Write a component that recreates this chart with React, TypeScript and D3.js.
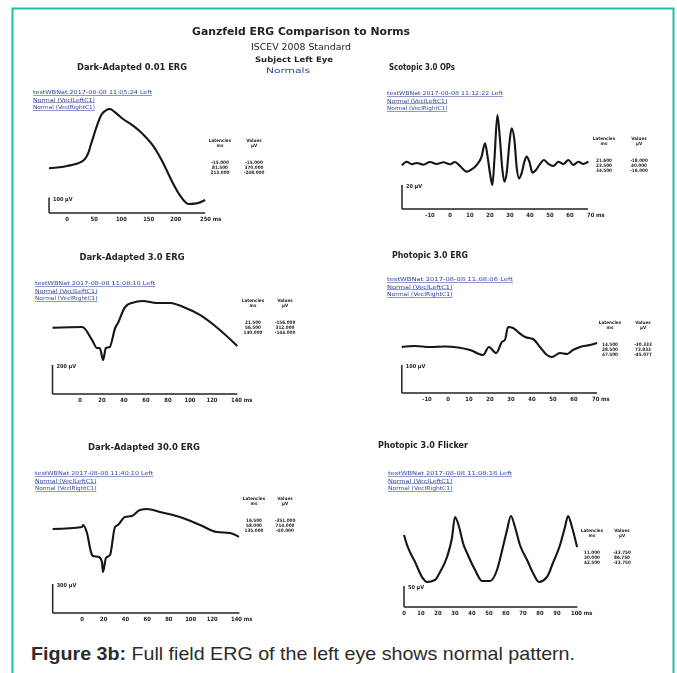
import React from 'react';
import * as d3 from 'd3';

// waveforms, [ms, µV]
const da001Wave: [number, number][] = [
  [-33, -15], [0, 0], [27, 28], [39, 83], [45, 150], [55, 259], [64, 335], [79, 368],
  [88, 347], [103, 303], [122, 259], [140, 204], [159, 127], [177, 18], [192, -92],
  [208, -191], [223, -245], [238, -241], [254, -219],
];
const opsWave: [number, number][] = [
  [-24, -2], [-21.7, 1], [-19, -1], [-16.7, 0], [-13.3, -1.4], [-10, 0.8], [-6.7, -0.8],
  [-3.3, 0.6], [0, -1.1], [2.5, 0.8], [5, -2.5], [8.3, -7.2], [10.8, -5.3], [13.3, -1.7],
  [15.8, 5.3], [17.5, 16.4], [18.8, 5.3], [20, -8.6], [21.2, -18.3], [22.2, 2.5], [23.7, 40],
  [25, 19.2], [26.2, -5.8], [27.2, -15.6], [28.3, -8.6], [29.7, 16.4], [30.8, 28.9],
  [32.2, 19.2], [33.3, -3], [34.5, -12.8], [35.8, -8.6], [37.2, 1.1], [38.3, 5.3], [39.7, 1.1],
  [41.2, -8], [43, -5.8], [45, -0.8], [47, 2.5], [49.2, -0.8], [51.7, -2.5], [54.2, 1.1],
  [56.7, -0.8], [59.2, 2.5], [61.7, -1.7], [64.2, 1.1], [66.7, -0.8], [69.2, 1.1],
];
const da30Wave: [number, number][] = [
  [-25, -5], [2, 0], [11, -90], [15.5, -145], [18, -145], [21, -228], [23.5, -145], [27, -138],
  [32, -7], [34.5, 28], [41, 138], [47, 166], [57, 179], [70, 166], [82, 166], [94, 138],
  [109, 83], [125, -7], [143, -131],
];
const photWave: [number, number][] = [
  [-22, 0], [-15.7, 3.6], [-8.6, 0], [-1.4, 1.8], [4.8, -1.8], [10.5, -10.7], [16.7, -28.6],
  [19.5, 0], [22.9, -21.4], [25.7, 17.9], [27.1, 25], [28.6, 71.4], [31, 67.9], [33.3, 53.6],
  [36.7, 35.7], [40.5, 28.6], [43.8, 0], [47.1, -28.6], [49.5, -35.7], [53.3, -21.4],
  [56.7, -25], [59.5, -10.7], [62.9, 0], [67.6, 7.1], [71, 14.3],
];
const da300Wave: [number, number][] = [
  [-27, -21], [0, 0], [0.9, 21], [4.6, -62], [8.3, -259], [10.1, -300], [15.7, -310],
  [18.4, -362], [19.3, -465], [22.1, -321], [25.8, -290], [30.4, 0], [33.1, 21], [39.6, 103],
  [46, 114], [53.4, 176], [59.9, 186], [71.8, 155], [90.2, 103], [108.7, 21], [124.3, -52],
  [136.3, -62], [144.6, -103],
];
const flickerWave: [number, number][] = [
  [0, 35.7], [1.8, 11.9], [3.5, -4.8], [6.5, -28.6], [10.6, -64.3], [13.5, -76.2], [18.2, -71.4],
  [21.2, -52.4], [25.3, -16.7], [28.2, 28.6], [30, 78.6], [32.4, 54.8], [34.7, 16.7],
  [37.6, -11.9], [41.8, -47.6], [45.9, -73.8], [50.6, -73.8], [54.7, -47.6], [58.2, 7.1],
  [60.6, 47.6], [62.9, 81], [65.3, 54.8], [68.2, 11.9], [72.4, -23.8], [75.9, -54.8],
  [79.4, -76.2], [84.1, -64.3], [87.6, -31], [91.8, 11.9], [94.7, 54.8], [96.5, 81],
  [98.8, 54.8], [101.8, 7.1],
];

const panelTitles = [
  'Dark-Adapted 0.01 ERG', 'Scotopic 3.0 OPs', 'Dark-Adapted 3.0 ERG',
  'Photopic 3.0 ERG', 'Dark-Adapted 30.0 ERG', 'Photopic 3.0 Flicker',
];
const recordLinks = [
  'testWBNat 2017-08-08 11:05:24 Left', 'testWBNat 2017-08-08 11:12:22 Left',
  'testWBNat 2017-08-08 11:08:10 Left', 'testWBNat 2017-08-08 11:08:06 Left',
  'testWBNat 2017-08-08 11:40:10 Left', 'testWBNat 2017-08-08 11:08:18 Left',
];
const normLinks = ['Normal (VecILeftC1)', 'Normal (VecIRightC1)'];

const ticks = [
  [0, 50, 100, 150, 200, 250],
  [-10, 0, 10, 20, 30, 40, 50, 60, 70],
  [0, 20, 40, 60, 80, 100, 120, 140],
  [-10, 0, 10, 20, 30, 40, 50, 60, 70],
  [0, 20, 40, 60, 80, 100, 120, 140],
  [0, 10, 20, 30, 40, 50, 60, 70, 80, 90, 100],
];
const scaleBars = [100, 20, 200, 100, 300, 50]; // µV

const latencies = [
  ['-15.000', '81.500', '213.000'],
  ['21.600', '23.500', '34.500'],
  ['21.500', '56.500', '140.000'],
  ['14.500', '28.500', '47.500'],
  ['16.500', '58.000', '135.000'],
  ['11.000', '30.000', '42.500'],
];
const values = [
  ['-15.000', '370.000', '-248.000'],
  ['-18.000', '40.000', '-16.000'],
  ['-156.000', '312.000', '-144.000'],
  ['-30.333', '73.833', '-45.077'],
  ['-351.000', '714.000', '-50.000'],
  ['-33.750', '86.750', '-33.750'],
];

const waves = [da001Wave, opsWave, da30Wave, photWave, da300Wave, flickerWave];

// layout per panel (pixels)
const layout = [
  { msAt: [0, 250], pxAt: [67, 203], axisMs: [-33, 254], axisY: 213, zeroY: 166, barPx: 15.5, title: [132, 67, 110], linkX: 33, linkY: 92, linkW: 119, tabX: [220, 254], tabY: 140 },
  { msAt: [0, 70], pxAt: [450, 590], axisMs: [-24, 69], axisY: 209, zeroY: 163, barPx: 24, title: [422, 67, 66], linkX: 387, linkY: 93, linkW: 116, tabX: [604, 639], tabY: 138 },
  { msAt: [0, 140], pxAt: [80, 234], axisMs: [-25, 143], axisY: 394, zeroY: 327, barPx: 29, title: [132, 257, 105], linkX: 35, linkY: 283, linkW: 120, tabX: [253, 285], tabY: 300 },
  { msAt: [0, 70], pxAt: [448, 595], axisMs: [-22, 71], axisY: 393, zeroY: 347, barPx: 28, title: [430, 255, 76], linkX: 387, linkY: 279, linkW: 126, tabX: [610, 643], tabY: 322 },
  { msAt: [0, 140], pxAt: [82, 234], axisMs: [-27, 145], axisY: 613, zeroY: 527, barPx: 29, title: [144, 447, 112], linkX: 35, linkY: 473, linkW: 118, tabX: [254, 285], tabY: 498 },
  { msAt: [0, 100], pxAt: [404, 574], axisMs: [0, 102], axisY: 607, zeroY: 550, barPx: 21, title: [423, 445, 90], linkX: 388, linkY: 473, linkW: 124, tabX: [592, 622], tabY: 530 },
];

const ink = '#232323';
const linkBlue = '#33479c';
const scanFont = '"DejaVu Sans Condensed", "DejaVu Sans", sans-serif';

const Panel = ({ i }: { i: number }) => {
  const L = layout[i];
  const x = d3.scaleLinear().domain(L.msAt).range(L.pxAt);
  const y = d3.scaleLinear().domain([0, scaleBars[i]]).range([L.zeroY, L.zeroY - L.barPx]);
  const line = d3.line<[number, number]>()
    .x(d => x(d[0]))
    .y(d => y(d[1]))
    .curve(d3.curveMonotoneX);
  const x0 = x(L.axisMs[0]);
  const x1 = x(L.axisMs[1]);
  const barH = y(0) - y(scaleBars[i]);
  const t = ticks[i];

  return (
    <g>
      <text x={L.title[0]} y={L.title[1] + 3} textAnchor="middle" fontFamily={scanFont}
        fontWeight="bold" fontSize={9} fill={ink} textLength={L.title[2]} lengthAdjust="spacingAndGlyphs">
        {panelTitles[i]}
      </text>

      {[recordLinks[i], ...normLinks].map((s, k) => (
        <text key={k} x={L.linkX} y={L.linkY + k * 7.5 + 2} fontFamily={scanFont} fontSize={5.5}
          fill={linkBlue} textDecoration="underline"
          textLength={k === 0 ? L.linkW : L.linkW * 0.52} lengthAdjust="spacingAndGlyphs">
          {s}
        </text>
      ))}

      <path d={line(waves[i]) || ''} fill="none" stroke="#141414" strokeWidth={2.1} strokeLinejoin="round" />

      {/* scale bar + time axis */}
      <line x1={x0} x2={x0} y1={L.axisY} y2={L.axisY - barH} stroke={ink} strokeWidth={1.5} />
      <line x1={x0} x2={x1} y1={L.axisY} y2={L.axisY} stroke={ink} strokeWidth={1.5} />
      <text x={x0 + 4} y={L.axisY - barH + 3} fontFamily={scanFont} fontSize={5.5} fontWeight="bold" fill={ink}>
        {scaleBars[i]} µV
      </text>
      {t.map((v, k) => (
        <text key={v} x={x(v)} y={L.axisY + 8} textAnchor={k === t.length - 1 ? 'start' : 'middle'}
          dx={k === t.length - 1 ? -3 : 0}
          fontFamily={scanFont} fontSize={5.8} fontWeight="bold" fill={ink}>
          {k === t.length - 1 ? `${v} ms` : v}
        </text>
      ))}

      {/* latency / value table */}
      <g fontFamily={scanFont} fontSize={4.6} fontWeight="bold" fill={ink} textAnchor="middle">
        <text x={L.tabX[0]} y={L.tabY + 2}>Latencies</text>
        <text x={L.tabX[1]} y={L.tabY + 2}>Values</text>
        <text x={L.tabX[0]} y={L.tabY + 7}>ms</text>
        <text x={L.tabX[1]} y={L.tabY + 7}>µV</text>
        {latencies[i].map((s, k) => (
          <text key={'l' + k} x={L.tabX[0]} y={L.tabY + 24 + k * 5}>{s}</text>
        ))}
        {values[i].map((s, k) => (
          <text key={'v' + k} x={L.tabX[1]} y={L.tabY + 24 + k * 5}>{s}</text>
        ))}
      </g>
    </g>
  );
};

const App = () => {
  return (
    <svg width={677} height={673} style={{ position: 'absolute', left: 0, top: 0, background: '#fff' }}>
      <defs>
        <filter id="scan" x="-5%" y="-5%" width="110%" height="110%">
          <feGaussianBlur stdDeviation={0.4} />
        </filter>
      </defs>
      <rect width={677} height={673} fill="#fff" />
      <path d="M12.5,673 V8.5 H673.5 V673" fill="none" stroke="#22c1a1" strokeWidth={2} />

      <g filter="url(#scan)">
        <g fontFamily={scanFont} fill={ink} textAnchor="middle">
          <text x={301} y={35} fontWeight="bold" fontSize={11} textLength={218} lengthAdjust="spacingAndGlyphs">
            Ganzfeld ERG Comparison to Norms
          </text>
          <text x={301} y={50} fontSize={9.5} textLength={100} lengthAdjust="spacingAndGlyphs">ISCEV 2008 Standard</text>
          <text x={294} y={62} fontSize={7.5} fontWeight="bold" textLength={78} lengthAdjust="spacingAndGlyphs">Subject Left Eye</text>
          <text x={288} y={73} fontSize={7.5} fill={linkBlue} textLength={44} lengthAdjust="spacingAndGlyphs">Normals</text>
        </g>
        {layout.map((_, i) => <Panel key={i} i={i} />)}
      </g>

      <text x={31} y={660} fontFamily='"Liberation Sans", Arial, sans-serif' fontSize={18.5} fill="#2b2b2b"
        textLength={544} lengthAdjust="spacingAndGlyphs">
        <tspan fontWeight="bold">Figure 3b:</tspan> Full field ERG of the left eye shows normal pattern.
      </text>
    </svg>
  );
};

export default App;
